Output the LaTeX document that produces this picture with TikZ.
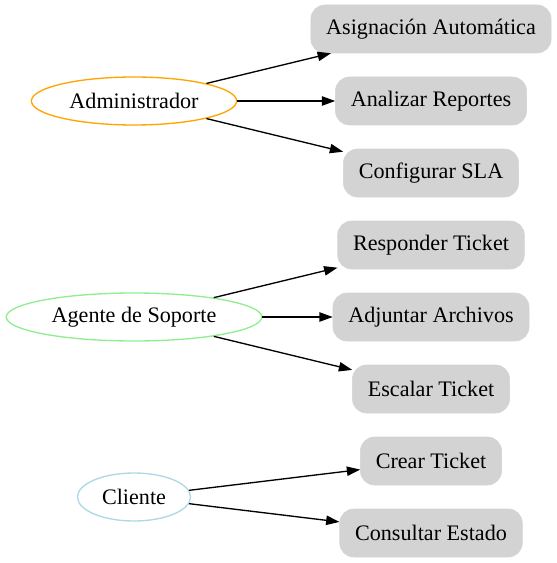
\documentclass[tikz,border=0pt]{standalone}
\usepackage{fontspec}
\setmainfont{Liberation Serif}
\usetikzlibrary{arrows.meta,shapes.geometric}

\definecolor{boxgray}{HTML}{D3D3D3}
\definecolor{roleorange}{HTML}{FFA500}
\definecolor{rolegreen}{HTML}{90EE90}
\definecolor{roleblue}{HTML}{ADD8E6}

\begin{document}
\begin{tikzpicture}[
  x=0.75pt, y=-0.75pt,
  font=\fontsize{16.6}{18}\selectfont,
  % Node Styles
  actor/.style={draw, ellipse, line width=1pt, minimum height=36pt, inner xsep=6pt, inner ysep=1pt, fill=white},
  usecase/.style={rectangle, rounded corners=10.5pt, fill=boxgray, draw=boxgray, minimum height=36pt, inner xsep=11.5pt, inner ysep=1pt},
  % Line Styles
  assoc/.style={-{Triangle[length=10pt, width=7pt]}, line width=1pt, black}
]
\useasboundingbox (0,0) rectangle (556,563);

% ================= NODES =================

% --- Roles (Left Column) ---
\node[actor, draw=roleorange] (admin)   at (134,101) {Administrador};
\node[actor, draw=rolegreen]  (agente)  at (134,317) {Agente de Soporte};
\node[actor, draw=roleblue]   (cliente) at (134,497) {Cliente};

% --- Use Cases (Right Column) ---
\node[usecase] (asignar)   at (431,29)  {Asignación Automática};
\node[usecase] (analizar)  at (431,101) {Analizar Reportes};
\node[usecase] (sla)       at (431,173) {Configurar SLA};
\node[usecase] (responder) at (431,245) {Responder Ticket};
\node[usecase] (adjuntar)  at (431,317) {Adjuntar Archivos};
\node[usecase] (escalar)   at (431,389) {Escalar Ticket};
\node[usecase] (crear)     at (431,461) {Crear Ticket};
\node[usecase] (consultar) at (431,533) {Consultar Estado};

% ================= CONNECTIONS =================

% Administrador
\draw[assoc] (admin) -- (asignar);
\draw[assoc] (admin) -- (analizar);
\draw[assoc] (admin) -- (sla);

% Agente de Soporte
\draw[assoc] (agente) -- (responder);
\draw[assoc] (agente) -- (adjuntar);
\draw[assoc] (agente) -- (escalar);

% Cliente
\draw[assoc] (cliente) -- (crear);
\draw[assoc] (cliente) -- (consultar);

\end{tikzpicture}
\end{document}
